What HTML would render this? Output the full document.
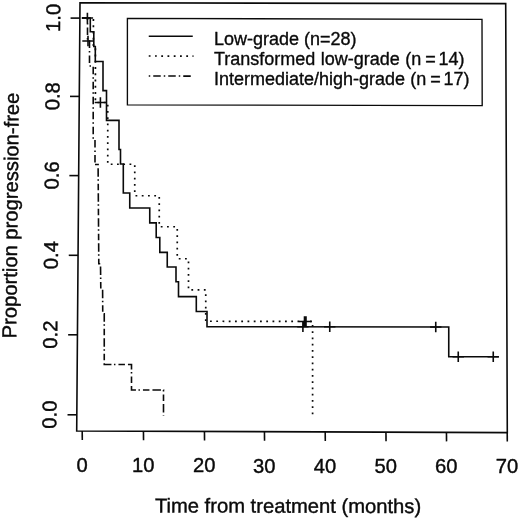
<!DOCTYPE html>
<html lang="en"><head><meta charset="utf-8"><title>Progression-free survival</title>
<style>
html,body{margin:0;padding:0;background:#fff;}
body{width:520px;height:519px;overflow:hidden;}
svg{display:block;}
text{font-family:"Liberation Sans",Arial,Helvetica,sans-serif;fill:#0a0a0a;stroke:#0a0a0a;stroke-width:0.4;stroke-linejoin:round;}
text.lg{stroke-width:0.35;}
.l{fill:none;stroke:#0a0a0a;stroke-width:1.6;stroke-linecap:butt;stroke-linejoin:miter;}
</style></head><body>
<svg width="520" height="519" viewBox="0 0 520 519">
<rect width="520" height="519" fill="#fff"/>
<polygon class="l" points="80.00,2.80 505.70,3.60 507.30,432.60 76.70,431.00"/>
<line class="l" x1="70.58" y1="18.10" x2="79.88" y2="18.10"/>
<text font-size="20.2" text-anchor="middle" transform="translate(60.16,17.90) rotate(-89.6)">1.0</text>
<line class="l" x1="69.98" y1="96.40" x2="79.28" y2="96.40"/>
<text font-size="20.2" text-anchor="middle" transform="translate(59.43,96.20) rotate(-89.6)">0.8</text>
<line class="l" x1="69.37" y1="175.60" x2="78.67" y2="175.60"/>
<text font-size="20.2" text-anchor="middle" transform="translate(58.69,175.40) rotate(-89.6)">0.6</text>
<line class="l" x1="68.75" y1="255.30" x2="78.05" y2="255.30"/>
<text font-size="20.2" text-anchor="middle" transform="translate(57.94,255.10) rotate(-89.6)">0.4</text>
<line class="l" x1="68.14" y1="334.80" x2="77.44" y2="334.80"/>
<text font-size="20.2" text-anchor="middle" transform="translate(57.20,334.60) rotate(-89.6)">0.2</text>
<line class="l" x1="67.52" y1="414.80" x2="76.82" y2="414.80"/>
<text font-size="20.2" text-anchor="middle" transform="translate(56.45,414.60) rotate(-89.6)">0.0</text>
<line class="l" x1="82.20" y1="431.02" x2="82.30" y2="440.10"/>
<text font-size="20.2" text-anchor="middle" x="82.10" y="472.00">0</text>
<line class="l" x1="143.45" y1="431.25" x2="143.55" y2="440.31"/>
<text font-size="20.2" text-anchor="middle" x="143.35" y="472.18">10</text>
<line class="l" x1="204.45" y1="431.47" x2="204.55" y2="440.53"/>
<text font-size="20.2" text-anchor="middle" x="204.35" y="472.37">20</text>
<line class="l" x1="264.45" y1="431.70" x2="264.55" y2="440.74"/>
<text font-size="20.2" text-anchor="middle" x="264.35" y="472.55">30</text>
<line class="l" x1="325.20" y1="431.92" x2="325.30" y2="440.95"/>
<text font-size="20.2" text-anchor="middle" x="325.10" y="472.73">40</text>
<line class="l" x1="385.95" y1="432.15" x2="386.05" y2="441.16"/>
<text font-size="20.2" text-anchor="middle" x="385.85" y="472.91">50</text>
<line class="l" x1="446.45" y1="432.37" x2="446.55" y2="441.37"/>
<text font-size="20.2" text-anchor="middle" x="446.35" y="473.09">60</text>
<line class="l" x1="507.20" y1="432.60" x2="507.30" y2="441.59"/>
<text font-size="20.2" text-anchor="middle" x="507.10" y="473.27">70</text>
<text font-size="20.2" transform="translate(154.9,512.4) rotate(0.13)">Time from treatment (months)</text>
<text font-size="20.2" transform="translate(16.2,338.4) rotate(-89.36)">Proportion progression-free</text>
<polygon class="l" style="stroke-width:1.35" points="127.40,18.40 482.00,19.40 482.20,105.60 127.40,104.80"/>
<line class="l" x1="148.75" y1="36.2" x2="192.75" y2="36.3"/>
<line class="l" x1="148.75" y1="56" x2="193.5" y2="56.1" stroke-dasharray="1.8 4.45" style="stroke-width:1.7"/>
<line class="l" x1="148.75" y1="76" x2="192" y2="76.1" stroke-dasharray="1.5 3 7.5 3"/>
<text class="lg" font-size="18" x="214" y="45.2">Low-grade (n=28)</text>
<text class="lg" font-size="18" y="65.0"><tspan x="214">Transformed</tspan> <tspan x="320.8">low-grade</tspan> <tspan x="405.2">(n</tspan> <tspan x="425.2">=</tspan> <tspan x="438.6">14)</tspan></text>
<text class="lg" font-size="18" y="84.5"><tspan x="214">Intermediate/high-grade</tspan> <tspan x="410.3">(n</tspan> <tspan x="430.2">=</tspan> <tspan x="443.4">17)</tspan></text>
<polyline class="l" points="82.00,18.00 93.40,18.00 93.40,46.00 95.40,46.00 95.40,102.50 107.75,102.50 107.75,164.25 134.75,164.25 134.75,195.75 159.25,195.75 159.25,226.75 177.25,226.75 177.25,258.75 188.50,258.75 188.50,289.90 205.75,289.90 205.75,321.25 312.60,321.40 312.60,416.25" stroke-dasharray="1.8 4.45" style="stroke-width:1.7"/>
<polyline class="l" points="82.00,18.00 87.50,18.00 87.50,41.00 89.50,41.00 89.50,66.00 93.20,66.00 93.20,140.00 95.00,140.00 95.00,164.50" stroke-dasharray="7.5 3 1.5 3"/>
<polyline class="l" points="95.00,164.50 98.10,164.50 98.80,263.75 100.50,263.75 100.80,288.75 102.60,288.75 102.75,313.75 104.25,313.75 104.25,364.50 131.50,364.50 131.50,390.00 163.50,390.00 163.50,415.50" stroke-dasharray="1.5 3 6.5 3 8.5 2.5" stroke-dashoffset="7.2"/>
<polyline class="l" points="82.00,18.00 90.30,18.00 90.30,31.80 93.80,31.80 93.80,46.50 95.30,46.50 95.30,61.50 103.00,61.50 103.00,90.60 106.50,90.60 106.50,120.40 119.00,120.40 119.00,149.50 120.50,149.50 120.50,164.00 123.30,164.00 123.30,193.00 129.75,193.00 129.75,208.00 149.75,208.00 149.75,222.90 156.20,222.90 156.20,237.50 159.80,237.50 159.80,252.40 167.25,252.40 167.25,267.00 176.00,267.00 176.00,281.75 178.50,281.75 178.50,296.60 196.30,296.60 196.30,311.50 207.00,311.50 207.00,326.60 448.75,327.00 448.75,356.75 498.75,356.75"/>
<path class="l" d="M81.70 18.00H93.10M87.40 12.80V23.20M82.30 41.00H93.70M88.00 35.80V46.20M94.70 102.50H106.10M100.40 97.30V107.70M298.80 321.50H310.20M304.50 316.30V326.70M300.30 321.50H311.70M306.00 316.30V326.70M297.20 326.70H308.60M302.90 321.50V331.90M324.05 326.70H335.45M329.75 321.50V331.90M430.05 327.00H441.45M435.75 321.80V332.20M452.55 356.75H463.95M458.25 351.55V361.95M487.55 356.75H498.95M493.25 351.55V361.95"/>
</svg></body></html>
